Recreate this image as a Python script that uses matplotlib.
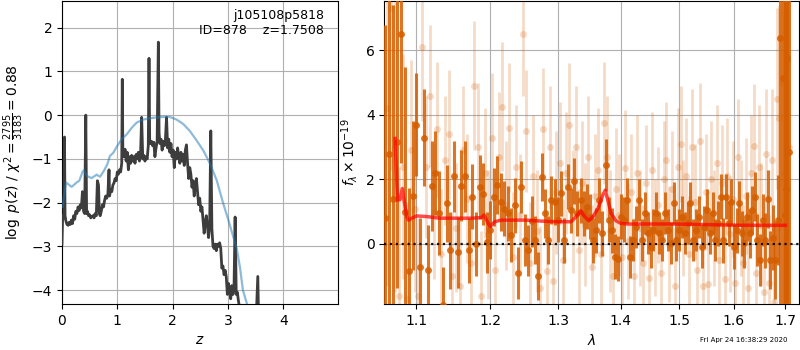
import matplotlib
matplotlib.use("Agg")
import matplotlib.pyplot as plt
from matplotlib.ticker import FixedLocator, NullLocator, FixedFormatter

# ---------------- left panel: log p(z) ----------------
z_grid = [0.00, 0.01, 0.02, 0.035, 0.045, 0.055, 0.07, 0.09, 0.11, 0.13, 0.15, 0.17, 0.19, 0.21,
          0.23, 0.25, 0.27, 0.29, 0.31, 0.33, 0.35, 0.37, 0.39, 0.41, 0.43, 0.445, 0.46, 0.48, 0.50,
          0.52, 0.54, 0.56, 0.58, 0.60, 0.62, 0.64, 0.66, 0.675, 0.69, 0.71, 0.73, 0.75, 0.77, 0.79,
          0.81, 0.83, 0.85, 0.86, 0.88, 0.90, 0.92, 0.94, 0.96, 0.98, 1.00, 1.02, 1.04, 1.06, 1.08,
          1.09, 1.10, 1.12, 1.14, 1.16, 1.18, 1.20, 1.22, 1.24, 1.26, 1.28, 1.30, 1.32, 1.34, 1.36,
          1.38, 1.40, 1.42, 1.44, 1.46, 1.48, 1.50, 1.52, 1.54, 1.56, 1.573, 1.585, 1.60, 1.62, 1.64,
          1.66, 1.68, 1.70, 1.72, 1.742, 1.755, 1.77, 1.79, 1.81, 1.83, 1.85, 1.87, 1.89, 1.91, 1.93,
          1.95, 1.97, 1.99, 2.01, 2.03, 2.05, 2.07, 2.09, 2.11, 2.13, 2.15, 2.17, 2.19, 2.21, 2.23,
          2.25, 2.27, 2.29, 2.31, 2.33, 2.35, 2.37, 2.39, 2.41, 2.43, 2.45, 2.47, 2.49, 2.51, 2.53,
          2.55, 2.57, 2.59, 2.61, 2.63, 2.65, 2.67, 2.69, 2.71, 2.73, 2.75, 2.77, 2.79, 2.81, 2.83,
          2.85, 2.87, 2.89, 2.91, 2.93, 2.95, 2.97, 2.99, 3.01, 3.03, 3.05, 3.07, 3.09, 3.11, 3.13,
          3.15, 3.17, 3.19, 3.21, 3.25, 3.35, 3.50, 3.54, 3.56, 3.70, 3.90]
log_pz = [-2.95, -2.40, -2.30, -2.35, -0.50, -2.30, -2.42, -2.50, -2.52, -2.45, -2.50, -2.40, -2.48, -2.30,
          -2.38, -2.20, -2.25, -2.10, -2.18, -2.05, -2.12, -1.75, -2.20, -2.25, 0.00, -2.25, -2.20, -2.30, -2.28,
          -2.35, -2.32, -2.30, -2.35, -2.25, -2.30, -1.50, -1.60, -2.25, -2.30, -2.20, -2.05, -2.10, -1.95, -1.85,
          -1.90, -1.80, -1.25, -1.85, -1.70, -1.75, -1.60, -1.55, -1.45, -1.50, -1.30, -1.35, -1.25, -1.30, -1.10,
          0.82, -0.80, -0.95, -0.78, -1.05, -0.85, -1.25, -0.95, -1.10, -0.92, -1.05, -0.95, -1.10, -0.90, -1.00,
          -0.85, -1.05, -0.90, -0.05, -1.00, -0.92, -1.05, -0.95, -1.00, -0.70, 1.30, -0.55, -0.65, -0.60, -0.70,
          -0.62, -0.95, -0.75, -0.60, 1.67, -0.40, -0.65, -0.55, -0.80, -0.60, -0.70, -0.55, -0.05, -0.75, -0.55,
          -0.85, -0.65, -0.95, -0.80, -1.20, -0.85, -1.00, -0.75, -0.95, -1.10, -0.85, -1.05, -0.90, -1.15, -0.80,
          -0.68, -1.10, -1.45, -1.20, -1.35, -1.65, -1.50, -1.85, -1.60, -1.45, -1.75, -2.05, -1.90, -2.20, -2.10,
          -2.40, -2.70, -2.45, -2.30, -2.55, -2.80, -2.50, -0.36, -2.60, -3.00, -3.05, -2.95, -3.10, -2.95, -3.00,
          -2.92, -3.05, -3.50, -3.45, -3.65, -3.55, -3.70, -4.10, -3.85, -4.00, -4.20, -3.90, -4.10, -3.95, -2.33,
          -4.10, -4.05, -4.25, -4.40, -4.60, -4.90, -5.00, -3.69, -5.00, -5.50, -6.00]

prior_z = [0.01, 0.024, 0.072, 0.175, 0.265, 0.313, 0.374, 0.398, 0.446, 0.536, 0.627, 0.687, 0.759,
           0.82, 0.868, 0.928, 1.00, 1.079, 1.17, 1.26, 1.35, 1.47, 1.65, 1.83, 1.95, 2.07, 2.19,
           2.31, 2.44, 2.56, 2.68, 2.80, 2.91, 3.02, 3.10, 3.16, 3.22, 3.27, 3.34, 3.40]
prior_logp = [-2.10, -1.95, -1.54, -1.64, -1.54, -1.50, -1.29, -1.26, -1.39, -1.44, -1.36, -1.41, -1.27,
              -1.12, -0.93, -0.86, -0.70, -0.55, -0.44, -0.29, -0.17, -0.10, -0.06, -0.04, -0.04, -0.10, -0.20,
              -0.36, -0.59, -0.82, -1.12, -1.50, -2.00, -2.45, -2.80, -3.05, -3.50, -4.00, -4.30, -4.60]

chi2_num, chi2_den, chi2_red = 2795, 3183, 0.88
root_name, obj_id, z_best = "j105108p5818", 878, 1.7508
timestamp = "Fri Apr 24 16:38:29 2020"

# ---------------- right panel: spectrum ----------------
dark_wave = [1.060, 1.065, 1.070, 1.075, 1.080, 1.085, 1.090, 1.095, 1.100, 1.105, 1.110, 1.115, 1.120,
             1.125, 1.130, 1.135, 1.140, 1.145, 1.150, 1.155, 1.160, 1.165, 1.170, 1.175, 1.180, 1.185,
             1.190, 1.195, 1.200, 1.205, 1.210, 1.215, 1.220, 1.225, 1.230, 1.235, 1.240, 1.245, 1.250,
             1.255, 1.260, 1.265, 1.270, 1.275, 1.280, 1.285, 1.290, 1.295, 1.300, 1.305, 1.310, 1.315,
             1.320, 1.325, 1.330, 1.335, 1.340, 1.345, 1.350, 1.355, 1.360, 1.365, 1.370, 1.375, 1.380,
             1.385, 1.390, 1.395, 1.400, 1.405, 1.410, 1.415, 1.420, 1.425, 1.430, 1.435, 1.440, 1.445,
             1.450, 1.455, 1.460, 1.465, 1.470, 1.475, 1.480, 1.485, 1.490, 1.495, 1.500, 1.505, 1.510,
             1.515, 1.520, 1.525, 1.530, 1.535, 1.540, 1.545, 1.550, 1.555, 1.560, 1.565, 1.570, 1.575,
             1.580, 1.585, 1.590, 1.595, 1.600, 1.605, 1.610, 1.615, 1.620, 1.625, 1.630, 1.635, 1.640,
             1.645, 1.650, 1.655, 1.660, 1.665, 1.670, 1.675, 1.680, 1.685, 1.690, 1.695, 1.6985, 1.701,
             1.704, 1.707]
dark_flux = [0.80, 2.80, 1.40, 3.15, 6.50, 1.00, -0.85, 1.50, 3.70, -0.70, 3.30, -0.80, 1.80,
             2.20, 0.95, -1.90, 1.26, -0.20, 2.10, -0.25, 1.80, 2.10, -0.20, 1.47, 0.00, 1.77,
             1.55, 0.05, 0.43, 1.46, 1.83, 1.30, 1.10, 0.95, 0.28, 1.20, -0.90, 1.77, 0.12,
             -0.20, 0.70, 0.12, -1.00, 2.08, 0.95, 0.12, 1.36, 1.30, 0.75, 1.57, 0.12, 1.77,
             1.05, 1.95, 0.95, 1.36, 0.95, 1.15, 0.85, 0.12, 0.43, 1.36, 0.33, 2.45, 0.75,
             0.43, -0.40, -0.45, 0.85, 0.75, 1.36, -0.40, 0.12, 0.54, 1.36, 0.12, 0.95, 0.33,
             -0.08, 0.43, 0.95, 0.33, 0.12, 0.95, 0.43, 0.02, 1.26, 0.12, 0.43, 0.85, 0.33,
             0.64, 1.26, 0.12, 0.43, 0.85, -0.10, 0.54, 1.05, 0.33, 0.95, 0.12, 0.64, 1.47,
             0.12, 1.47, 0.64, 1.31, -0.08, 0.43, 1.26, 0.33, 0.02, 0.85, 0.33, 1.05, 1.47,
             0.12, -0.50, 0.75, 0.12, 1.40, -0.50, 0.20, -0.50, 0.75, 6.40, 5.15, 0.90, 1.70,
             5.75, 2.85]
dark_err = [6.0, 5.5, 6.0, 4.5, 4.0, 4.5, 2.6, 2.3, 1.6, 1.5, 1.5, 1.4, 1.4,
            1.3, 1.3, 1.2, 1.2, 1.2, 1.1, 1.1, 1.1, 1.1, 1.0, 1.0, 1.0, 1.0,
            0.95, 0.95, 0.9, 0.9, 0.9, 0.9, 0.85, 0.85, 0.85, 0.85, 0.8, 0.8, 0.8,
            0.8, 0.8, 0.75, 0.75, 0.75, 0.75, 0.75, 0.75, 0.7, 0.7, 0.7, 0.7, 0.7,
            0.7, 0.7, 0.7, 0.7, 0.7, 0.7, 0.7, 0.7, 0.7, 0.7, 0.7, 0.8, 0.7,
            0.7, 0.7, 0.7, 0.7, 0.7, 0.7, 0.65, 0.65, 0.65, 0.65, 0.65, 0.65, 0.65,
            0.65, 0.65, 0.65, 0.65, 0.65, 0.65, 0.65, 0.65, 0.65, 0.65, 0.65, 0.65, 0.65,
            0.65, 0.65, 0.65, 0.65, 0.65, 0.65, 0.65, 0.65, 0.65, 0.65, 0.65, 0.7, 0.7,
            0.7, 0.7, 0.7, 0.7, 0.7, 0.7, 0.7, 0.7, 0.75, 0.75, 0.75, 0.75, 0.75,
            0.8, 0.8, 0.8, 0.85, 0.9, 0.9, 1.0, 1.2, 1.4, 9.0, 8.0, 7.0, 7.0,
            9.0, 8.0]

light_wave = [1.0625, 1.0675, 1.0725, 1.0775, 1.0825, 1.0875, 1.0925, 1.0975, 1.1025, 1.1075, 1.1125,
              1.1175, 1.1225, 1.1275, 1.1325, 1.1375, 1.1425, 1.1475, 1.1525, 1.1575, 1.1625, 1.1675,
              1.1725, 1.1775, 1.1825, 1.1875, 1.1925, 1.1975, 1.2025, 1.2075, 1.2125, 1.2175, 1.2225,
              1.2275, 1.2325, 1.2375, 1.2425, 1.2475, 1.2525, 1.2575, 1.2625, 1.2675, 1.2725, 1.2775,
              1.2825, 1.2875, 1.2925, 1.2975, 1.3025, 1.3075, 1.3125, 1.3175, 1.3225, 1.3275, 1.3325,
              1.3375, 1.3425, 1.3475, 1.3525, 1.3575, 1.3625, 1.3675, 1.3725, 1.3775, 1.3825, 1.3875,
              1.3925, 1.3975, 1.4025, 1.4075, 1.4125, 1.4175, 1.4225, 1.4275, 1.4325, 1.4375, 1.4425,
              1.4475, 1.4525, 1.4575, 1.4625, 1.4675, 1.4725, 1.4775, 1.4825, 1.4875, 1.4925, 1.4975,
              1.5025, 1.5075, 1.5125, 1.5175, 1.5225, 1.5275, 1.5325, 1.5375, 1.5425, 1.5475, 1.5525,
              1.5575, 1.5625, 1.5675, 1.5725, 1.5775, 1.5825, 1.5875, 1.5925, 1.5975, 1.6025, 1.6075,
              1.6125, 1.6175, 1.6225, 1.6275, 1.6325, 1.6375, 1.6425, 1.6475, 1.6525, 1.6575, 1.6625,
              1.6675, 1.6725, 1.6775, 1.6825, 1.6875, 1.6925, 1.6975, 1.7025, 1.7075]
light_flux = [4.2, 7.3, 3.0, -1.6, 2.4, -1.7, 2.9, 1.1, -1.6, 6.1, 2.4,
              4.6, 1.0, 3.55, -0.3, 2.6, 3.4, -1.0, 0.5, -1.3, 2.9, 1.4,
              -0.6, 4.9, 3.0, -1.6, 2.2, 0.3, 3.3, -0.8, 2.7, 4.25, 1.2,
              3.6, -0.4, 2.4, 0.9, 6.5, 3.5, -0.6, 2.1, 0.4, -1.35, 3.55,
              -0.85, 3.0, -1.15, 1.6, 2.5, -0.5, 2.2, 3.7, 1.0, 3.0, -0.2,
              1.9, 0.6, 2.7, -0.7, 1.5, 2.3, -0.3, 3.75, 2.7, 0.4, -1.0,
              1.7, 0.9, -0.4, 2.35, 0.1, 1.6, -1.0, 2.2, 0.5, -0.6, 1.9,
              -1.05, 2.3, 0.2, 1.2, -0.9, 2.0, 2.6, 0.0, 1.7, -1.3, 2.4,
              3.1, 0.8, 2.1, -0.3, 3.0, 1.3, -0.8, 3.2, -1.3, 1.6, -1.25,
              2.0, 0.5, 2.5, -0.5, 1.9, -1.1, 2.1, 0.3, 1.4, -1.2, 2.7,
              0.8, -0.6, 1.5, -1.35, 2.2, 3.05, -0.9, 2.4, 0.6, -1.5, 2.8,
              -1.2, 2.6, -1.8, 4.5, 3.9, 5.0, 2.2, 5.7, 3.0]
light_err = [5.5, 5.0, 4.5, 4.0, 3.5, 3.0, 2.8, 2.6, 2.4, 2.3, 2.2,
             2.2, 2.1, 2.1, 2.0, 2.0, 2.0, 2.0, 2.0, 2.0, 2.0, 2.0,
             2.0, 2.0, 2.0, 2.0, 2.0, 2.0, 2.0, 2.0, 2.0, 2.0, 2.0,
             2.0, 2.0, 1.9, 1.9, 1.9, 1.9, 1.9, 1.9, 1.9, 1.9, 1.9,
             1.9, 1.9, 1.9, 1.9, 1.9, 1.9, 1.9, 1.9, 1.9, 1.9, 1.9,
             1.9, 1.9, 1.9, 1.9, 1.9, 1.9, 1.9, 1.9, 1.9, 1.9, 1.9,
             1.9, 1.9, 1.9, 1.8, 1.8, 1.8, 1.8, 1.8, 1.8, 1.8, 1.8,
             1.8, 1.8, 1.8, 1.8, 1.8, 1.8, 1.8, 1.8, 1.8, 1.8, 1.8,
             1.8, 1.8, 1.8, 1.8, 1.8, 1.8, 1.8, 1.8, 1.8, 1.8, 1.8,
             1.8, 1.8, 1.8, 1.8, 1.8, 1.8, 1.8, 1.8, 1.8, 1.8, 1.8,
             1.8, 1.8, 1.8, 1.8, 1.8, 1.9, 1.9, 1.9, 1.9, 2.0, 2.0,
             2.1, 2.2, 2.4, 2.8, 3.5, 4.5, 5.0, 6.0, 6.0]

model_wave = [1.0727, 1.0756, 1.0790, 1.0818, 1.0840, 1.0875, 1.0897, 1.0940, 1.1004, 1.1134, 1.1308,
              1.1525, 1.1751, 1.1876, 1.1913, 1.1968, 1.2000, 1.2063, 1.2161, 1.2502, 1.2746, 1.2990,
              1.3202, 1.3282, 1.3351, 1.3415, 1.3479, 1.3548, 1.3628, 1.3707, 1.3745, 1.3787, 1.3840,
              1.3920, 1.4000, 1.4114, 1.4914, 1.5515, 1.6128, 1.7000]
model_flux = [3.27, 1.36, 1.38, 1.72, 1.36, 0.85, 0.74, 0.80, 0.87, 0.85, 0.80,
              0.80, 0.80, 0.82, 0.90, 0.66, 0.54, 0.69, 0.74, 0.74, 0.71, 0.69,
              0.69, 0.85, 1.03, 0.85, 0.72, 0.85, 1.10, 1.52, 1.67, 1.36, 0.95,
              0.72, 0.64, 0.62, 0.62, 0.60, 0.58, 0.58]

wave_ticks = [1.1, 1.2, 1.3, 1.4, 1.5, 1.6, 1.7]
wave_ticklabels = ["1.1", "1.2", "1.3", "1.4", "1.5", "1.6", "1.7"]

# ---------------- figure ----------------
fig = plt.figure(figsize=(8, 3.5), dpi=100)
axz = fig.add_axes([0.0775, 0.1314, 0.345, 0.8656])
axs = fig.add_axes([0.4805, 0.1314, 0.5183, 0.8656])

axz.plot(z_grid, log_pz, color="#3d3d3d", lw=2.0, zorder=3)
axz.plot(prior_z, prior_logp, color="tab:blue", alpha=0.5, lw=1.6, zorder=4)
axz.set_xlim(0, 4.99)
axz.set_ylim(-4.32, 2.61)
axz.set_xticks([0, 1, 2, 3, 4])
axz.set_yticks([-4, -3, -2, -1, 0, 1, 2])
axz.grid(True)
axz.set_axisbelow(True)
axz.set_xlabel(r"$z$")
axz.set_ylabel(r"$\log\ p(z)$" + " / " +
               r"$\chi^2=\frac{%d}{%d}=%.2f$" % (chi2_num, chi2_den, chi2_red))
axz.text(0.95, 0.975, "%s\nID=%d    z=%.4f" % (root_name, obj_id, z_best),
         transform=axz.transAxes, ha="right", va="top", fontsize=9)

gcol = (0.8352941176470589, 0.3686274509803922, 0.0)
axs.errorbar(light_wave, light_flux, yerr=light_err, fmt="o", color=gcol, alpha=0.22,
             ms=5, elinewidth=2.0, capsize=0, mew=0, zorder=2)
axs.errorbar(dark_wave, dark_flux, yerr=dark_err, fmt="o", color=gcol, alpha=0.85,
             ms=5, elinewidth=2.2, capsize=0, mew=0, zorder=3)
axs.plot(model_wave, model_flux, color="r", alpha=0.7, lw=2.5, zorder=5)
axs.axhline(0, color="k", linestyle=":", lw=1.6, alpha=0.9, zorder=6)

axs.set_xscale("log")
axs.set_xlim(1.0592, 1.7277)
axs.xaxis.set_major_locator(FixedLocator(wave_ticks))
axs.xaxis.set_major_formatter(FixedFormatter(wave_ticklabels))
axs.xaxis.set_minor_locator(NullLocator())
axs.set_ylim(-1.86, 7.53)
axs.set_yticks([0, 2, 4, 6])
axs.grid(True)
axs.set_axisbelow(True)
axs.set_xlabel(r"$\lambda$")
axs.set_ylabel(r"$f_\lambda \times 10^{-19}$")

fig.text(0.985, 0.02, timestamp, ha="right", va="bottom", fontsize=5)

fig.savefig("out.png", dpi=100)
